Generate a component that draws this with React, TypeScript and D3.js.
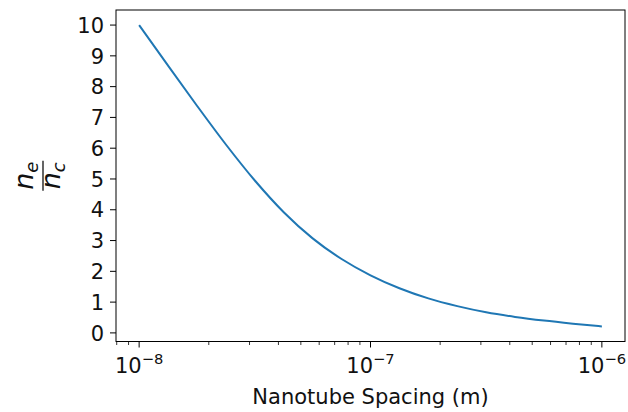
import React from "react";
import * as d3 from "d3";

// Nanotube spacing exponents (log10 of metres) and n_e/n_c values
const spacingExp: number[] = [-8, -7.875, -7.75, -7.625, -7.5, -7.375, -7.25, -7.125, -7, -6.875, -6.75, -6.625, -6.5, -6.375, -6.25, -6.125, -6];
const ratioValues: number[] = [10.0, 8.68, 7.38, 6.12, 4.95, 3.92, 3.07, 2.4, 1.87, 1.45, 1.12, 0.87, 0.67, 0.52, 0.4, 0.3, 0.21];
const yTicks: number[] = [0, 1, 2, 3, 4, 5, 6, 7, 8, 9, 10];
const xMajorExp: number[] = [-8, -7, -6];
const xLabel = "Nanotube Spacing (m)";

const W = 628, H = 412;
const left = 116, right = 625, top = 10, bottom = 341.5;
const FONT = "DejaVu Sans, sans-serif";
const FS = 21;
const TXT = "#111";

export default function App() {
  const data = spacingExp.map((e, i) => ({ x: Math.pow(10, e), y: ratioValues[i] }));
  const lx = d3.extent(spacingExp) as [number, number];
  const dx = (lx[1] - lx[0]) * 0.05;
  const x = d3.scaleLog().domain([Math.pow(10, lx[0] - dx), Math.pow(10, lx[1] + dx)]).range([left, right]);
  const ey = d3.extent(ratioValues) as [number, number];
  const dy = (ey[1] - ey[0]) * 0.05;
  const y = d3.scaleLinear().domain([ey[0] - dy, ey[1] + dy]).range([bottom, top]);

  const line = d3.line<{ x: number; y: number }>().x(d => x(d.x)).y(d => y(d.y)).curve(d3.curveMonotoneX);

  const [d0, d1] = x.domain();
  const minor: number[] = [];
  for (let e = -10; e <= -4; e++) {
    for (let m = 2; m <= 9; m++) {
      const v = m * Math.pow(10, e);
      if (v >= d0 && v <= d1) minor.push(v);
    }
  }

  return (
    <svg width={W} height={H} style={{ position: "absolute", left: 0, top: 0, background: "#fff" }} fontFamily={FONT}>
      <rect x={0} y={0} width={W} height={H} fill="#fff" />
      <path d={line(data) || ""} fill="none" stroke="#1f77b4" strokeWidth={2} />
      <rect x={left} y={top} width={right - left} height={bottom - top} fill="none" stroke="#000" strokeWidth={1} />
      {yTicks.map(t => (
        <g key={"y" + t}>
          <line x1={left - 6} x2={left} y1={y(t)} y2={y(t)} stroke="#000" strokeWidth={1} />
          <text x={left - 12} y={y(t) + FS * 0.3645} textAnchor="end" fontSize={FS} fill={TXT}>{t}</text>
        </g>
      ))}
      {minor.map((v, i) => (
        <line key={"m" + i} x1={x(v)} x2={x(v)} y1={bottom} y2={bottom + 3.5} stroke="#000" strokeWidth={0.8} />
      ))}
      {xMajorExp.map(e => {
        const px = x(Math.pow(10, e));
        return (
          <g key={"x" + e}>
            <line x1={px} x2={px} y1={bottom} y2={bottom + 6} stroke="#000" strokeWidth={1} />
            <text x={px} y={373} textAnchor="middle" fontSize={FS} fill={TXT}>
              10<tspan fontSize={FS * 0.7} dy={-9}>{"\u2212" + Math.abs(e)}</tspan>
            </text>
          </g>
        );
      })}
      <text x={(left + right) / 2} y={403.5} textAnchor="middle" fontSize={FS} fill={TXT}>{xLabel}</text>
      <g transform={`translate(43,${(top + bottom) / 2}) rotate(-90)`} fill={TXT}>
        <text x={0} y={-10} textAnchor="middle" fontSize={27} fontStyle="italic">
          n<tspan fontSize={18} dy={5}>e</tspan>
        </text>
        <line x1={-15} x2={15} y1={0} y2={0} stroke={TXT} strokeWidth={1.3} />
        <text x={0} y={17} textAnchor="middle" fontSize={27} fontStyle="italic">
          n<tspan fontSize={18} dy={5}>c</tspan>
        </text>
      </g>
    </svg>
  );
}
